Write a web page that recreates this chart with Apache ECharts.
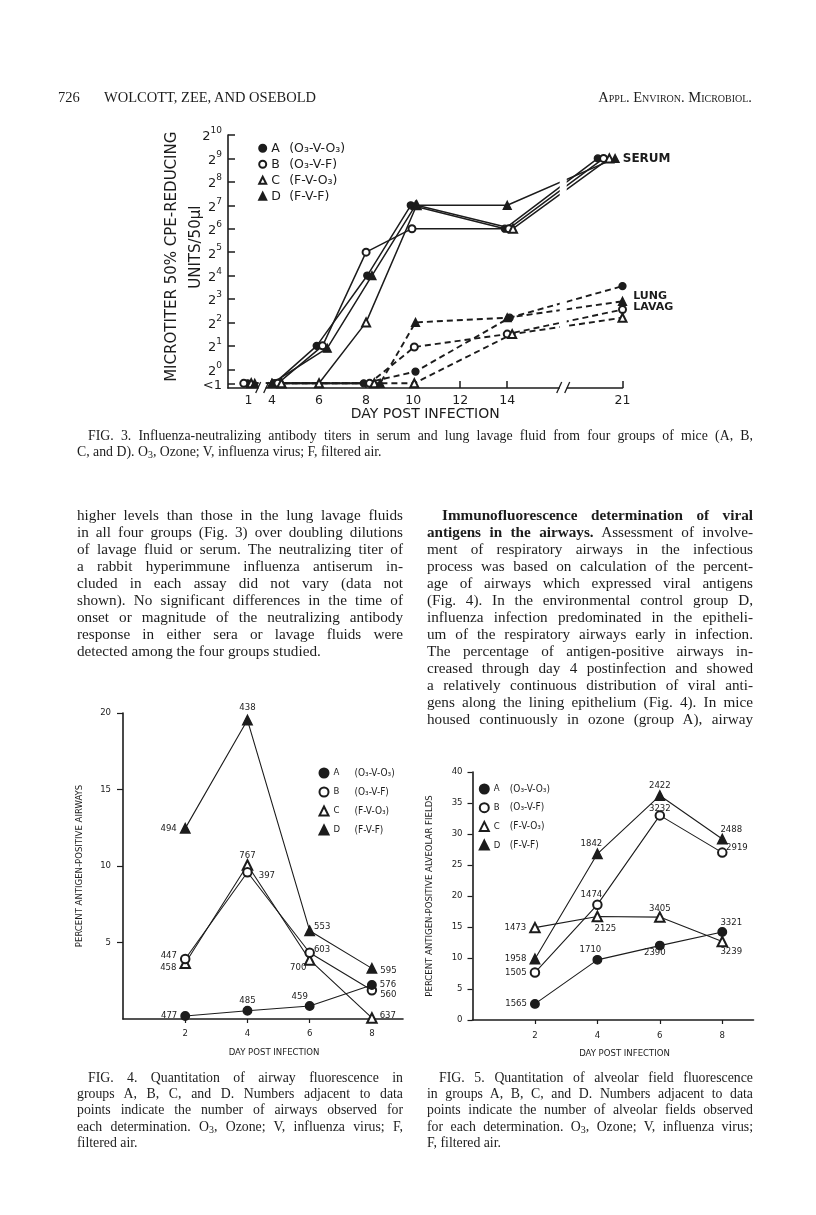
<!DOCTYPE html>
<html>
<head>
<meta charset="utf-8">
<title>Wolcott, Zee, and Osebold — Figs. 3–5</title>
<script src="https://cdn.jsdelivr.net/npm/echarts@6.0.0/dist/echarts.min.js"></script>
<style>
  html, body { margin:0; padding:0; background:#fff; }
  #page { position:relative; width:816px; height:1215px; overflow:hidden; background:#fff;
          font-family:"Liberation Serif","Times New Roman","DejaVu Serif",serif; color:#1c1c1c; }
  #chart { position:absolute; left:0; top:0; width:816px; height:1215px; }
  .ln { position:absolute; white-space:nowrap; }
  .j { text-align:justify; text-align-last:justify; }
  .body { font-size:15.2px; line-height:17px; height:17px; }
  .cap { font-size:13.8px; line-height:16px; height:16px; }
  .hdr { font-size:14.5px; line-height:18px; height:18px; }
  sub { font-size:0.72em; vertical-align:-0.22em; line-height:0; }
</style>
</head>
<body>
<div id="page">
  <div id="chart"></div>
  <div id="text"></div>
</div>
<script>
// ---------------- DATA ----------------
const INK = '#1c1c1c';
const LT = -0.6; // plotted level of "<1" on the log2 titer axis

// Fig. 3: [day post infection, log2 of neutralizing titer]
const serumA = [[0.9,LT],[4.1,LT],[5.9,1],[8.05,4],[9.9,7],[13.9,6],[19.5,9]];
const serumB = [[0.4,LT],[4.25,LT],[6.15,1],[8.0,5],[9.95,6],[14.1,6],[19.85,9]];
const serumC = [[1.35,LT],[4.4,LT],[6.0,LT],[8.0,2],[10.15,7],[14.35,6],[20.2,9]];
const serumD = [[1.8,LT],[4.0,LT],[6.35,0.9],[8.25,4],[10.1,7],[14.0,7],[20.55,9]];
const lungA  = [[4.1,LT],[7.9,LT],[10.1,-0.1],[14.15,2.2],[21,3.55]];
const lungB  = [[4.25,LT],[8.15,LT],[10.05,0.95],[14.0,1.5],[21,2.55]];
const lungC  = [[4.4,LT],[8.35,LT],[10.05,LT],[14.3,1.5],[21,2.2]];
const lungD  = [[4.0,LT],[8.6,LT],[10.1,2.0],[14.0,2.2],[21,2.9]];
const fig3TickDays = [1,4,6,8,10,12,14,21];
const fig3YTicks = [LT,0,1,2,3,4,5,6,7,8,9,10];
const fig3Breaks = [2.75, 17.4];

// Fig. 4: percent antigen-positive airways
const days = [2,4,6,8];
const airwayA = [0.2,0.54,0.85,2.22];
const airwayB = [3.92,9.59,4.33,1.88];
const airwayC = [3.64,10.07,3.86,0.07];
const airwayD = [12.46,19.54,5.77,3.31];
const countA4 = [477,485,459,576];
const countB4 = [447,397,603,560];
const countC4 = [458,767,700,637];
const countD4 = [494,438,553,595];

// Fig. 5: percent antigen-positive alveolar fields
const alveolarA = [2.6,9.7,12.0,14.2];
const alveolarB = [7.65,18.6,33.0,27.0];
const alveolarC = [14.9,16.7,16.6,12.65];
const alveolarD = [9.85,26.8,36.2,29.2];
const countA5 = [1565,1710,2390,3321];
const countB5 = [1505,1474,3232,2919];
const countC5 = [1473,2125,3405,3239];
const countD5 = [1958,1842,2422,2488];

const treatment = {A:'(O₃-V-O₃)', B:'(O₃-V-F)', C:'(F-V-O₃)', D:'(F-V-F)'};

// ---------------- STYLE (label placement) ----------------
const labelCfg4 = {
  A: [{position:'left',distance:3},{position:'top',distance:0},{position:'top',distance:0,offset:[-10,0]},{position:'right',distance:3,offset:[0,-1]}],
  B: [{position:'left',distance:3,offset:[0,-3]},{position:'right',distance:6,offset:[0,3]},{position:'right',distance:-1,offset:[0,-3]},{position:'right',distance:3,offset:[0,4]}],
  C: [{position:'left',distance:3,offset:[0,4]},{position:'top',distance:-1},{position:'left',distance:-2.5,offset:[0,8]},{position:'right',distance:2,offset:[0,-2]}],
  D: [{position:'left',distance:3},{position:'top',distance:2},{position:'right',distance:-1,offset:[0,-4]},{position:'right',distance:3,offset:[0,2]}]
};
const labelCfg5 = {
  A: [{position:'left',distance:3},{position:'top',distance:0,offset:[-7,0]},{position:'bottom',distance:-3,offset:[-5,0]},{position:'top',distance:-1,offset:[9,0]}],
  B: [{position:'left',distance:3},{position:'top',distance:0,offset:[-6,0]},{position:'top',distance:-3},{position:'right',distance:-1.5,offset:[0,-5]}],
  C: [{position:'left',distance:3},{position:'bottom',distance:1,offset:[8,0]},{position:'top',distance:-2},{position:'bottom',distance:-1,offset:[9,0]}],
  D: [{position:'left',distance:3},{position:'top',distance:0,offset:[-6,0]},{position:'top',distance:0},{position:'top',distance:-1,offset:[9,0]}]
};

const F3 = 'DejaVu Sans';
const F45 = '"Liberation Sans Narrow","DejaVu Sans Condensed","DejaVu Sans",sans-serif';
const groupSymbol = {A:'circle', B:'emptyCircle', C:'emptyTriangle', D:'triangle'};

// broken day axis of Fig. 3 (1→4 compressed, 14→21 compressed)
function dayToPos(d){ if (d <= 4) return 3 + (d-1)/3; if (d <= 14) return d; return 14 + (d-14)*0.7; }
function posToDay(p){ if (p <= 4) return 1 + (p-3)*3; if (p <= 14) return p; return 14 + (p-14)/0.7; }

function fig3Series(name, pairs, g, dashed, endLabel){
  const data = pairs.map((p,i) => {
    const v = [dayToPos(p[0]), p[1]];
    if (endLabel && i === pairs.length-1) return {value:v, label:Object.assign({show:true}, endLabel)};
    return v;
  });
  return {
    type:'line', name, xAxisIndex:0, yAxisIndex:0, data,
    symbol: groupSymbol[g], symbolSize: (g==='C'||g==='D') ? 8 : 7,
    lineStyle:{color:INK, width: dashed ? 1.9 : 1.5, type: dashed ? [6,4] : 'solid'},
    itemStyle:{color:INK, borderColor:INK, borderWidth:1.3},
    label:{show:false}, emphasis:{disabled:true}, z: dashed ? 2 : 3
  };
}
function fig45Series(name, idx, vals, counts, cfg, g){
  return {
    type:'line', name, xAxisIndex:idx, yAxisIndex:idx,
    data: days.map((d,i) => ({value:[d, vals[i]], label:Object.assign({show:true, formatter:String(counts[i])}, cfg[i])})),
    symbol: groupSymbol[g], symbolSize: (g==='C'||g==='D') ? 9.5 : 8.5,
    lineStyle:{color:INK, width:1.1},
    itemStyle:{color:INK, borderColor:INK, borderWidth:1.4},
    label:{show:true, color:INK, fontFamily:F45, fontSize:9.5},
    emphasis:{disabled:true}, z:3
  };
}

const axisLine = {show:true, onZero:false, lineStyle:{color:INK, width:1.6}};
const chart = echarts.init(document.getElementById('chart'), null, {renderer:'canvas'});

const option = {
  animation:false,
  backgroundColor:'transparent',
  textStyle:{color:INK},
  grid:[
    {left:228, top:135, width:394.5, height:253, outerBoundsMode:'none'},
    {left:123, top:713, width:280, height:306, outerBoundsMode:'none'},
    {left:472.5, top:772, width:281, height:248, outerBoundsMode:'none'}
  ],
  xAxis:[
    {gridIndex:0, type:'value', min:2.13, max:dayToPos(21),
     axisLine, splitLine:{show:false},
     axisTick:{show:true, inside:true, length:7, customValues:fig3TickDays.map(dayToPos), lineStyle:{color:INK,width:1.5}},
     axisLabel:{show:true, customValues:fig3TickDays.map(dayToPos), margin:6,
       formatter:v => String(Math.round(posToDay(v))), fontFamily:F3, fontSize:12.5, color:INK},
     name:'DAY POST INFECTION', nameLocation:'middle', nameGap:19, nameMoveOverlap:false,
     nameTextStyle:{fontFamily:F3, fontSize:14, color:INK}},
    {gridIndex:1, type:'value', min:0, max:9,
     axisLine, splitLine:{show:false},
     axisTick:{show:true, length:4, customValues:days, lineStyle:{color:INK,width:1.2}},
     axisLabel:{show:true, customValues:days, margin:10, fontFamily:F45, fontSize:9.5, color:INK},
     name:'DAY POST INFECTION', nameLocation:'middle', nameGap:29, nameMoveOverlap:false,
     nameTextStyle:{fontFamily:F45, fontSize:9.5, color:INK, padding:[0,0,0,22]}},
    {gridIndex:2, type:'value', min:0, max:9,
     axisLine, splitLine:{show:false},
     axisTick:{show:true, length:4, customValues:days, lineStyle:{color:INK,width:1.2}},
     axisLabel:{show:true, customValues:days, margin:11, fontFamily:F45, fontSize:9.5, color:INK},
     name:'DAY POST INFECTION', nameLocation:'middle', nameGap:29, nameMoveOverlap:false,
     nameTextStyle:{fontFamily:F45, fontSize:9.5, color:INK, padding:[0,0,0,23]}}
  ],
  yAxis:[
    {gridIndex:0, type:'value', min:-0.8, max:10,
     axisLine, splitLine:{show:false},
     axisTick:{show:true, inside:true, length:7, customValues:fig3YTicks, lineStyle:{color:INK,width:1.5}},
     axisLabel:{show:true, customValues:fig3YTicks, margin:6,
       formatter:v => v < 0 ? '{n|<1}' : '{n|2}{s|' + Math.round(v) + '}',
       rich:{ n:{fontFamily:F3, fontSize:13, color:INK, lineHeight:17, verticalAlign:'bottom'},
              s:{fontFamily:F3, fontSize:9, color:INK, lineHeight:9, verticalAlign:'top'} }},
     name:'  MICROTITER 50% CPE-REDUCING\n      UNITS/50µl', nameLocation:'middle', nameRotate:90, nameGap:20, nameMoveOverlap:false,
     nameTextStyle:{fontFamily:F3, fontSize:15, color:INK, lineHeight:24}},
    {gridIndex:1, type:'value', min:0, max:20, interval:5,
     axisLine, splitLine:{show:false},
     axisTick:{show:true, length:6, lineStyle:{color:INK,width:1.2}},
     axisLabel:{show:true, showMinLabel:false, margin:12, fontFamily:F45, fontSize:9.5, color:INK},
     name:'PERCENT ANTIGEN-POSITIVE AIRWAYS', nameLocation:'middle', nameRotate:90, nameGap:38, nameMoveOverlap:false,
     nameTextStyle:{fontFamily:F45, fontSize:9.5, color:INK}},
    {gridIndex:2, type:'value', min:0, max:40, interval:5,
     axisLine, splitLine:{show:false},
     axisTick:{show:true, length:5, lineStyle:{color:INK,width:1.2}},
     axisLabel:{show:true, margin:10, fontFamily:F45, fontSize:9.5, color:INK},
     name:'PERCENT ANTIGEN-POSITIVE ALVEOLAR FIELDS', nameLocation:'middle', nameRotate:90, nameGap:38, nameMoveOverlap:false,
     nameTextStyle:{fontFamily:F45, fontSize:9.5, color:INK}}
  ],
  legend:[
    {orient:'vertical', left:258.2, top:141.3, padding:0, itemWidth:7, itemHeight:7, itemGap:2, selectedMode:false,
     data:['A','B','C','D'].map(g => ({name:g, icon:groupSymbol[g]})),
     formatter:n => '{l|' + n + '}{f|' + treatment[n] + '}',
     textStyle:{color:INK, lineHeight:14, rich:{l:{fontFamily:F3, fontSize:12.5, width:18, lineHeight:14}, f:{fontFamily:F3, fontSize:12.5, lineHeight:14}}}},
    {orient:'vertical', left:318.5, top:767, padding:0, itemWidth:9, itemHeight:9, itemGap:7, selectedMode:false,
     data:['A','B','C','D'].map(g => ({name:g+'4', icon:groupSymbol[g]})),
     formatter:n => '{l|' + n[0] + '}{f|' + treatment[n[0]] + '}',
     textStyle:{color:INK, lineHeight:12, rich:{l:{fontFamily:F45, fontSize:9.5, width:21, lineHeight:12}, f:{fontFamily:F45, fontSize:10, lineHeight:12}}}},
    {orient:'vertical', left:478.8, top:783, padding:0, itemWidth:9, itemHeight:9, itemGap:6.7, selectedMode:false,
     data:['A','B','C','D'].map(g => ({name:g+'5', icon:groupSymbol[g]})),
     formatter:n => '{l|' + n[0] + '}{f|' + treatment[n[0]] + '}',
     textStyle:{color:INK, lineHeight:12, rich:{l:{fontFamily:F45, fontSize:9.5, width:16, lineHeight:12}, f:{fontFamily:F45, fontSize:10, lineHeight:12}}}}
  ],
  series:[
    fig3Series('A lung', lungA, 'A', true),
    fig3Series('B lung', lungB, 'B', true),
    fig3Series('C lung', lungC, 'C', true),
    fig3Series('D lung', lungD, 'D', true, {formatter:'LUNG\nLAVAG', position:'right', distance:6, fontFamily:F3, fontWeight:'bold', fontSize:11, lineHeight:11, color:INK}),
    fig3Series('A', serumA, 'A', false),
    fig3Series('B', serumB, 'B', false),
    fig3Series('C', serumC, 'C', false),
    fig3Series('D', serumD, 'D', false, {formatter:'SERUM', position:'right', distance:3, fontFamily:F3, fontWeight:'bold', fontSize:12, color:INK}),
    fig45Series('D4', 1, airwayD, countD4, labelCfg4.D, 'D'),
    fig45Series('C4', 1, airwayC, countC4, labelCfg4.C, 'C'),
    fig45Series('B4', 1, airwayB, countB4, labelCfg4.B, 'B'),
    fig45Series('A4', 1, airwayA, countA4, labelCfg4.A, 'A'),
    fig45Series('D5', 2, alveolarD, countD5, labelCfg5.D, 'D'),
    fig45Series('C5', 2, alveolarC, countC5, labelCfg5.C, 'C'),
    fig45Series('B5', 2, alveolarB, countB5, labelCfg5.B, 'B'),
    fig45Series('A5', 2, alveolarA, countA5, labelCfg5.A, 'A')
  ]
};
chart.setOption(option);

// axis-break marks of Fig. 3, placed through the axis scales
(function(){
  const yAx = chart.convertToPixel({yAxisIndex:0}, -0.8);
  const yLow = chart.convertToPixel({yAxisIndex:0}, LT);
  const yTop = chart.convertToPixel({yAxisIndex:0}, 9.6);
  const g = [];
  fig3Breaks.forEach((d, k) => {
    const x = chart.convertToPixel({xAxisIndex:0}, dayToPos(d));
    const top = k === 0 ? yLow - 6 : yTop;
    g.push({type:'rect', z:100, shape:{x:x-3.5, y:top, width:7, height:yAx - top + 4}, style:{fill:'#fff'}});
    g.push({type:'line', z:101, shape:{x1:x-6.5, y1:yAx+5, x2:x-1.5, y2:yAx-6}, style:{stroke:INK, lineWidth:1.3}});
    g.push({type:'line', z:101, shape:{x1:x+1.5, y1:yAx+5, x2:x+6.5, y2:yAx-6}, style:{stroke:INK, lineWidth:1.3}});
  });
  chart.setOption({graphic:g});
})();

// ---------------- PAGE TEXT ----------------
const header = [
  ['726', 58, 98, 0, false, 'hdr'],
  ['WOLCOTT, ZEE, AND OSEBOLD', 104, 98, 0, false, 'hdr']
];
const leftCol = [
  'higher levels than those in the lung lavage fluids',
  'in all four groups (Fig. 3) over doubling dilutions',
  'of lavage fluid or serum. The neutralizing titer of',
  'a rabbit hyperimmune influenza antiserum in-',
  'cluded in each assay did not vary (data not',
  'shown). No significant differences in the time of',
  'onset or magnitude of the neutralizing antibody',
  'response in either sera or lavage fluids were',
  'detected among the four groups studied.'
];
const rightCol = [
  '<b>Immunofluorescence determination of viral</b>',
  '<b>antigens in the airways.</b> Assessment of involve-',
  'ment of respiratory airways in the infectious',
  'process was based on calculation of the percent-',
  'age of airways which expressed viral antigens',
  '(Fig. 4). In the environmental control group D,',
  'influenza infection predominated in the epitheli-',
  'um of the respiratory airways early in infection.',
  'The percentage of antigen-positive airways in-',
  'creased through day 4 postinfection and showed',
  'a relatively continuous distribution of viral anti-',
  'gens along the lining epithelium (Fig. 4). In mice',
  'housed continuously in ozone (group A), airway'
];
const cap3 = [
  'FIG. 3. Influenza-neutralizing antibody titers in serum and lung lavage fluid from four groups of mice (A, B,',
  'C, and D). O<sub>3</sub>, Ozone; V, influenza virus; F, filtered air.'
];
const cap4 = [
  'FIG. 4. Quantitation of airway fluorescence in',
  'groups A, B, C, and D. Numbers adjacent to data',
  'points indicate the number of airways observed for',
  'each determination. O<sub>3</sub>, Ozone; V, influenza virus; F,',
  'filtered air.'
];
const cap5 = [
  'FIG. 5. Quantitation of alveolar field fluorescence',
  'in groups A, B, C, and D. Numbers adjacent to data',
  'points indicate the number of alveolar fields observed',
  'for each determination. O<sub>3</sub>, Ozone; V, influenza virus;',
  'F, filtered air.'
];

const holder = document.getElementById('text');
function put(html, x, yc, w, justify, cls, h){
  const d = document.createElement('div');
  d.className = 'ln ' + cls + (justify ? ' j' : '');
  d.style.left = x + 'px';
  d.style.top = (yc - h/2 - 1) + 'px';
  if (w) d.style.width = w + 'px';
  d.innerHTML = html;
  holder.appendChild(d);
}
header.forEach(r => put(r[0], r[1], r[2], r[3], r[4], r[5], 18));
(function(){
  const d = document.createElement('div');
  d.className = 'ln hdr';
  d.style.right = (816-752) + 'px'; d.style.top = (98-10) + 'px';
  d.style.fontVariant = 'small-caps';
  d.textContent = 'Appl. Environ. Microbiol.';
  holder.appendChild(d);
})();
leftCol.forEach((t,i) => put(t, 77, 515 + 17.08*i, 326, i < leftCol.length-1, 'body', 17));
rightCol.forEach((t,i) => put(t, i===0 ? 442 : 427, 515 + 17.08*i, i===0 ? 311 : 326, true, 'body', 17));
cap3.forEach((t,i) => put(t, i===0 ? 88 : 77, 437 + 16*i, i===0 ? 665 : 0, i===0, 'cap', 16));
cap4.forEach((t,i) => put(t, i===0 ? 88 : 77, 1079 + 16.2*i, i===0 ? 315 : 326, i < cap4.length-1, 'cap', 16));
cap5.forEach((t,i) => put(t, i===0 ? 439 : 427, 1079 + 16.2*i, i===0 ? 314 : 326, i < cap5.length-1, 'cap', 16));
</script>
</body>
</html>
